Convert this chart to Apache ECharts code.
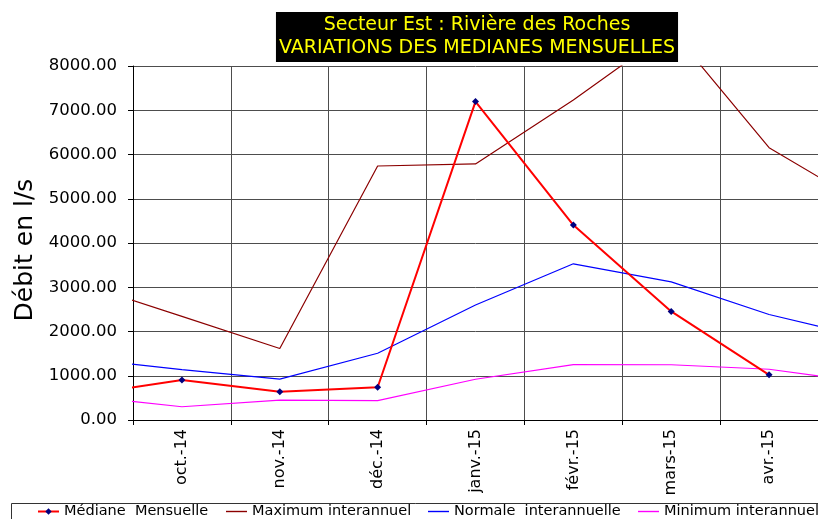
<!DOCTYPE html>
<html lang="fr">
<head>
    <meta charset="UTF-8">
    <title>Variations des médianes mensuelles</title>
    <script src="https://cdn.jsdelivr.net/npm/echarts@6/dist/echarts.min.js"></script>
    <style>
        html, body { margin: 0; padding: 0; background: #fff; }
        #chart { width: 818px; height: 519px; }
    </style>
</head>
<body>
<div id="chart"></div>
<script>
    // mois affichés
    const months = ['oct.-14', 'nov.-14', 'déc.-14', 'janv.-15', 'févr.-15', 'mars-15', 'avr.-15'];
    // valeurs de sept.-14 à mai-15 (les extrémités sont coupées par le cadre)
    const monthPos = [0, 1, 2, 3, 4, 5, 6, 7, 8];
    const mediane = [575, 905, 640, 740, 7196, 4406, 2453, 1020, null];
    const maximum = [3062, 2342, 1616, 5740, 5786, 7230, 8816, 6155, 4843];
    const normale = [1380, 1140, 925, 1509, 2598, 3530, 3123, 2385, 1855];
    const minimum = [538, 300, 450, 439, 921, 1253, 1249, 1147, 845];
    const yTicks = { min: 0, max: 8000, step: 1000 };

    const seriesNames = ['Médiane  Mensuelle', 'Maximum interannuel', 'Normale  interannuelle', 'Minimum interannuel'];
    const legendLeft = [37, 226, 428, 638];

    const font = 'DejaVu Sans';
    const pairs = arr => monthPos.map((p, i) => [p, arr[i]]);
    const lineIcon = 'path://M0,0H21V1.4H0Z';

    // une légende par série pour caler les positions
    const legends = seriesNames.map((name, i) => ({
        left: legendLeft[i],
        top: 504,
        padding: 0,
        itemWidth: 21,
        itemHeight: 8,
        textStyle: { fontFamily: font, fontSize: 14.5, color: '#000' },
        data: i === 0 ? [name] : [{ name: name, icon: lineIcon }]
    }));

    const chart = echarts.init(document.getElementById('chart'));
    chart.setOption({
        animation: false,
        title: {
            text: 'Secteur Est : Rivière des Roches\nVARIATIONS DES MEDIANES MENSUELLES',
            left: 474,
            top: 12,
            textAlign: 'center',
            backgroundColor: '#000',
            padding: [2, 3, 2, 3],
            textStyle: { color: '#ffff00', fontFamily: font, fontSize: 19, fontWeight: 'normal', lineHeight: 23 }
        },
        legend: legends,
        graphic: [{
            type: 'rect',
            shape: { x: 11.5, y: 503.5, width: 900, height: 60 },
            style: { fill: 'none', stroke: '#333', lineWidth: 1 },
            silent: true
        }, {
            type: 'text',
            x: 25,
            y: 250,
            rotation: Math.PI / 2,
            style: {
                text: 'Débit en l/s',
                font: '25px "DejaVu Sans"',
                fill: '#000',
                align: 'center',
                verticalAlign: 'middle'
            },
            silent: true
        }],
        grid: { left: 133, top: 66, width: 686, height: 354 },
        xAxis: [{
            type: 'category',
            data: months,
            boundaryGap: true,
            axisLine: { lineStyle: { color: '#000', width: 1 } },
            axisTick: { show: true, length: 5, lineStyle: { color: '#000' } },
            splitLine: { show: true, lineStyle: { color: '#4d4d4d', width: 1 } },
            axisLabel: { rotate: 90, margin: 9, color: '#000', fontFamily: font, fontSize: 16 }
        }, {
            type: 'value',
            min: 0.5,
            max: 7.5,
            show: false
        }],
        yAxis: {
            type: 'value',
            min: yTicks.min,
            max: yTicks.max,
            interval: yTicks.step,
            axisLine: { show: true, lineStyle: { color: '#000', width: 1 } },
            axisTick: { show: true, length: 5, lineStyle: { color: '#000' } },
            splitLine: { show: true, lineStyle: { color: '#4d4d4d', width: 1 } },
            axisLabel: {
                margin: 16,
                color: '#000',
                fontFamily: font,
                fontSize: 16.5,
                formatter: v => v.toFixed(2)
            }
        },
        series: [{
            name: seriesNames[0],
            type: 'line',
            xAxisIndex: 1,
            data: pairs(mediane),
            symbol: 'diamond',
            symbolSize: 7,
            itemStyle: { color: '#000080' },
            lineStyle: { color: '#ff0000', width: 2 },
            z: 5
        }, {
            name: seriesNames[1],
            type: 'line',
            xAxisIndex: 1,
            data: pairs(maximum),
            symbol: 'none',
            itemStyle: { color: '#8b0000' },
            lineStyle: { color: '#8b0000', width: 1.2 }
        }, {
            name: seriesNames[2],
            type: 'line',
            xAxisIndex: 1,
            data: pairs(normale),
            symbol: 'none',
            itemStyle: { color: '#0000ff' },
            lineStyle: { color: '#0000ff', width: 1.2 }
        }, {
            name: seriesNames[3],
            type: 'line',
            xAxisIndex: 1,
            data: pairs(minimum),
            symbol: 'none',
            itemStyle: { color: '#ff00ff' },
            lineStyle: { color: '#ff00ff', width: 1.2 }
        }]
    });
</script>
</body>
</html>
